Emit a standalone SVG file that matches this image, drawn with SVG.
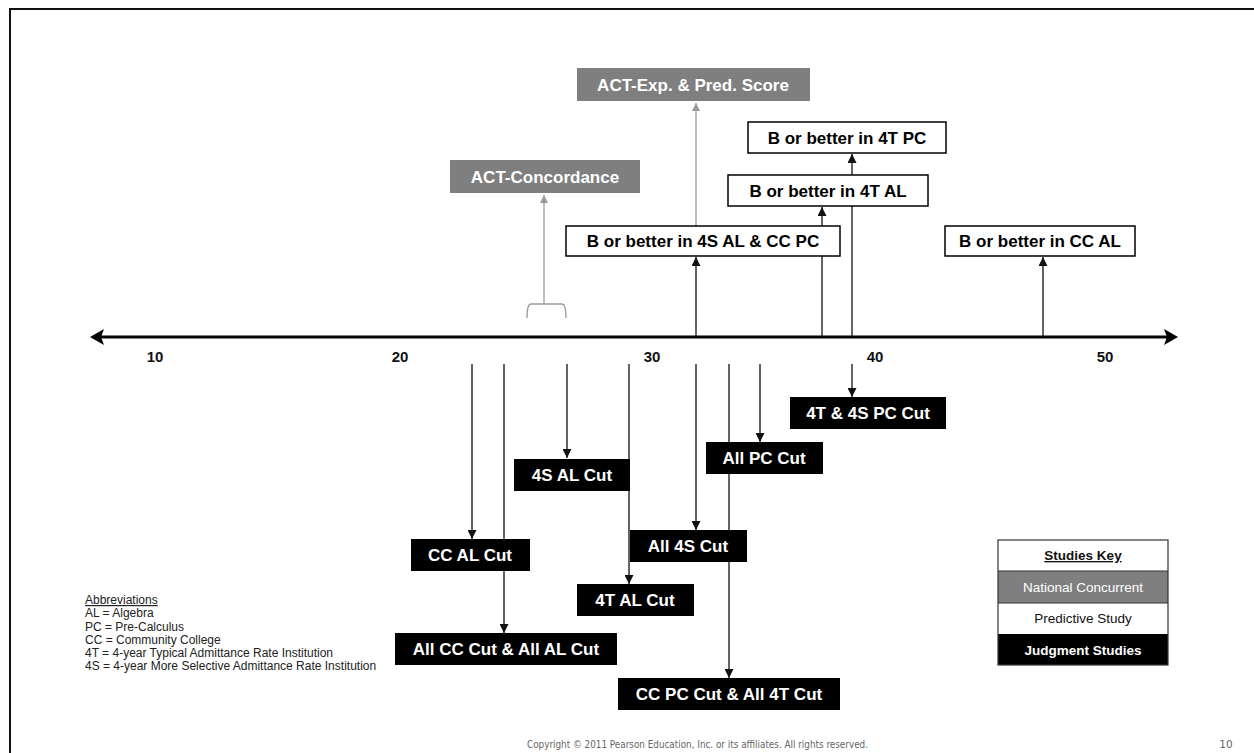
<svg xmlns="http://www.w3.org/2000/svg" width="1254" height="753" viewBox="0 0 1254 753">
  <style>
    .lbl { font-family: "Liberation Sans", Arial, sans-serif; font-weight: bold; font-size: 17px; text-anchor: middle; }
    .tick { font-family: "Liberation Sans", Arial, sans-serif; font-weight: bold; font-size: 15px; fill: #111; text-anchor: middle; }
    .gbox { fill: #7f7f7f; }
    .wbox { fill: #ffffff; stroke: #000; stroke-width: 1.5; }
    .bbox { fill: #000; }
    .wt { fill: #fff; }
    .bt { fill: #000; }
    .ln { stroke: #111; stroke-width: 1.3; fill: none; }
    .gln { stroke: #9a9a9a; stroke-width: 1.3; fill: none; }
    .abbr { font-family: "Liberation Sans", Arial, sans-serif; font-size: 12px; fill: #222; }
    .key { font-family: "Liberation Sans", Arial, sans-serif; font-size: 13.5px; text-anchor: middle; }
  </style>
  <defs>
    <marker id="ah" viewBox="0 0 10 10" refX="10" refY="5" markerWidth="9" markerHeight="9" markerUnits="userSpaceOnUse" orient="auto">
      <path d="M0,0 L10,5 L0,10 Z" fill="#111"/>
    </marker>
    <marker id="ahg" viewBox="0 0 10 10" refX="10" refY="5" markerWidth="8" markerHeight="8" markerUnits="userSpaceOnUse" orient="auto">
      <path d="M0,0 L10,5 L0,10 Z" fill="#9a9a9a"/>
    </marker>
  </defs>

  <rect x="0" y="0" width="1254" height="753" fill="#fff"/>
  <!-- slide frame -->
  <path d="M10,760 L10,9 L1260,9" fill="none" stroke="#111" stroke-width="2"/>

  <!-- score axis -->
  <g id="axis">
    <line x1="100" y1="337" x2="1168" y2="337" stroke="#000" stroke-width="3"/>
    <path d="M90,337 L104,329 L101,337 L104,345 Z" fill="#000"/>
    <path d="M1178,337 L1164,329 L1167,337 L1164,345 Z" fill="#000"/>
    <text class="tick" x="155" y="362">10</text>
    <text class="tick" x="400" y="362">20</text>
    <text class="tick" x="652" y="362">30</text>
    <text class="tick" x="875" y="362">40</text>
    <text class="tick" x="1105" y="362">50</text>
  </g>

  <!-- connectors -->
  <g id="connectors">
    <!-- concordance range bracket -->
    <path class="gln" d="M527,318 Q527,304 531,304 L562,304 Q566,304 566,318"/>
    <line class="gln" x1="544" y1="304" x2="544" y2="195" marker-end="url(#ahg)"/>
    <line class="gln" x1="696" y1="226" x2="696" y2="103" marker-end="url(#ahg)"/>
    <!-- upward (predictive) -->
    <line class="ln" x1="696" y1="336" x2="696" y2="257" stroke="#444" marker-end="url(#ah)"/>
    <line class="ln" x1="822" y1="336" x2="822" y2="207" marker-end="url(#ah)"/>
    <line class="ln" x1="852" y1="336" x2="852" y2="154" marker-end="url(#ah)"/>
    <line class="ln" x1="1043" y1="336" x2="1043" y2="257" marker-end="url(#ah)"/>
    <!-- downward (judgment) -->
    <line class="ln" x1="472" y1="364" x2="472" y2="539" marker-end="url(#ah)"/>
    <line class="ln" x1="504" y1="364" x2="504" y2="633" marker-end="url(#ah)"/>
    <line class="ln" x1="567" y1="364" x2="567" y2="458" marker-end="url(#ah)"/>
    <line class="ln" x1="629" y1="364" x2="629" y2="584" marker-end="url(#ah)"/>
    <line class="ln" x1="696" y1="364" x2="696" y2="530" marker-end="url(#ah)"/>
    <line class="ln" x1="729" y1="364" x2="729" y2="678" marker-end="url(#ah)"/>
    <line class="ln" x1="760" y1="364" x2="760" y2="442" marker-end="url(#ah)"/>
    <line class="ln" x1="852" y1="364" x2="852" y2="397" marker-end="url(#ah)"/>
  </g>

  <!-- national concurrent -->
  <g id="act-exp">
    <rect class="gbox" x="577" y="68" width="233" height="33"/>
    <text class="lbl wt" x="693" y="91">ACT-Exp. &amp; Pred. Score</text>
  </g>
  <g id="act-concordance">
    <rect class="gbox" x="450" y="160" width="190" height="33"/>
    <text class="lbl wt" x="545" y="183">ACT-Concordance</text>
  </g>

  <!-- predictive studies -->
  <g id="b-4t-pc">
    <rect class="wbox" x="748" y="122" width="198" height="31"/>
    <text class="lbl bt" x="847" y="144">B or better in 4T PC</text>
  </g>
  <g id="b-4t-al">
    <rect class="wbox" x="728" y="175" width="200" height="31"/>
    <text class="lbl bt" x="828" y="197">B or better in 4T AL</text>
  </g>
  <g id="b-4s-al-cc-pc">
    <rect class="wbox" x="566" y="226" width="274" height="30"/>
    <text class="lbl bt" x="703" y="247">B or better in 4S AL &amp; CC PC</text>
  </g>
  <g id="b-cc-al">
    <rect class="wbox" x="945" y="226" width="190" height="30"/>
    <text class="lbl bt" x="1040" y="247">B or better in CC AL</text>
  </g>

  <!-- judgment studies -->
  <g id="tt-ts-pc-cut">
    <rect class="bbox" x="790" y="397" width="156" height="32"/>
    <text class="lbl wt" x="868" y="419">4T &amp; 4S PC Cut</text>
  </g>
  <g id="all-pc-cut">
    <rect class="bbox" x="706" y="442" width="117" height="32"/>
    <text class="lbl wt" x="764" y="464">All PC Cut</text>
  </g>
  <g id="ts-al-cut">
    <rect class="bbox" x="514" y="459" width="116" height="32"/>
    <text class="lbl wt" x="572" y="481">4S AL Cut</text>
  </g>
  <g id="all-4s-cut">
    <rect class="bbox" x="630" y="530" width="117" height="32"/>
    <text class="lbl wt" x="688" y="552">All 4S Cut</text>
  </g>
  <g id="cc-al-cut">
    <rect class="bbox" x="411" y="539" width="119" height="32"/>
    <text class="lbl wt" x="470" y="561">CC AL Cut</text>
  </g>
  <g id="tt-al-cut">
    <rect class="bbox" x="577" y="584" width="117" height="32"/>
    <text class="lbl wt" x="635" y="606">4T AL Cut</text>
  </g>
  <g id="all-cc-all-al-cut">
    <rect class="bbox" x="395" y="633" width="222" height="32"/>
    <text class="lbl wt" x="506" y="655">All CC Cut &amp; All AL Cut</text>
  </g>
  <g id="cc-pc-all-4t-cut">
    <rect class="bbox" x="618" y="678" width="222" height="32"/>
    <text class="lbl wt" x="729" y="700">CC PC Cut &amp; All 4T Cut</text>
  </g>

  <!-- abbreviations -->
  <g id="abbreviations">
    <text class="abbr" x="85" y="604" text-decoration="underline" fill="#111">Abbreviations</text>
    <text class="abbr" x="85" y="617">AL = Algebra</text>
    <text class="abbr" x="85" y="631">PC = Pre-Calculus</text>
    <text class="abbr" x="85" y="644">CC = Community College</text>
    <text class="abbr" x="85" y="657">4T = 4-year Typical Admittance Rate Institution</text>
    <text class="abbr" x="85" y="670">4S = 4-year More Selective Admittance Rate Institution</text>
  </g>

  <!-- studies key -->
  <g id="studies-key">
    <rect x="998" y="540" width="170" height="31" fill="#fff"/>
    <rect x="998" y="571" width="170" height="32" fill="#7f7f7f"/>
    <rect x="998" y="603" width="170" height="31" fill="#fff"/>
    <rect x="998" y="634" width="170" height="31" fill="#000"/>
    <rect x="998" y="540" width="170" height="125" fill="none" stroke="#333" stroke-width="1.2"/>
    <line x1="998" y1="571" x2="1168" y2="571" stroke="#333" stroke-width="1"/>
    <line x1="998" y1="603" x2="1168" y2="603" stroke="#333" stroke-width="1"/>
    <text class="key" x="1083" y="560" font-weight="bold" text-decoration="underline" fill="#111">Studies Key</text>
    <text class="key" x="1083" y="592" fill="#fff">National Concurrent</text>
    <text class="key" x="1083" y="623" fill="#111">Predictive Study</text>
    <text class="key" x="1083" y="655" font-weight="bold" fill="#fff">Judgment Studies</text>
  </g>

  <!-- footer -->
  <text x="527" y="748" font-family="DejaVu Sans, Verdana, sans-serif" font-size="10.5" fill="#666" textLength="341" lengthAdjust="spacingAndGlyphs">Copyright © 2011 Pearson Education, Inc. or its affiliates. All rights reserved.</text>
  <text x="1226" y="748" font-family="DejaVu Sans, Verdana, sans-serif" font-size="10.5" fill="#666" text-anchor="middle">10</text>
</svg>
